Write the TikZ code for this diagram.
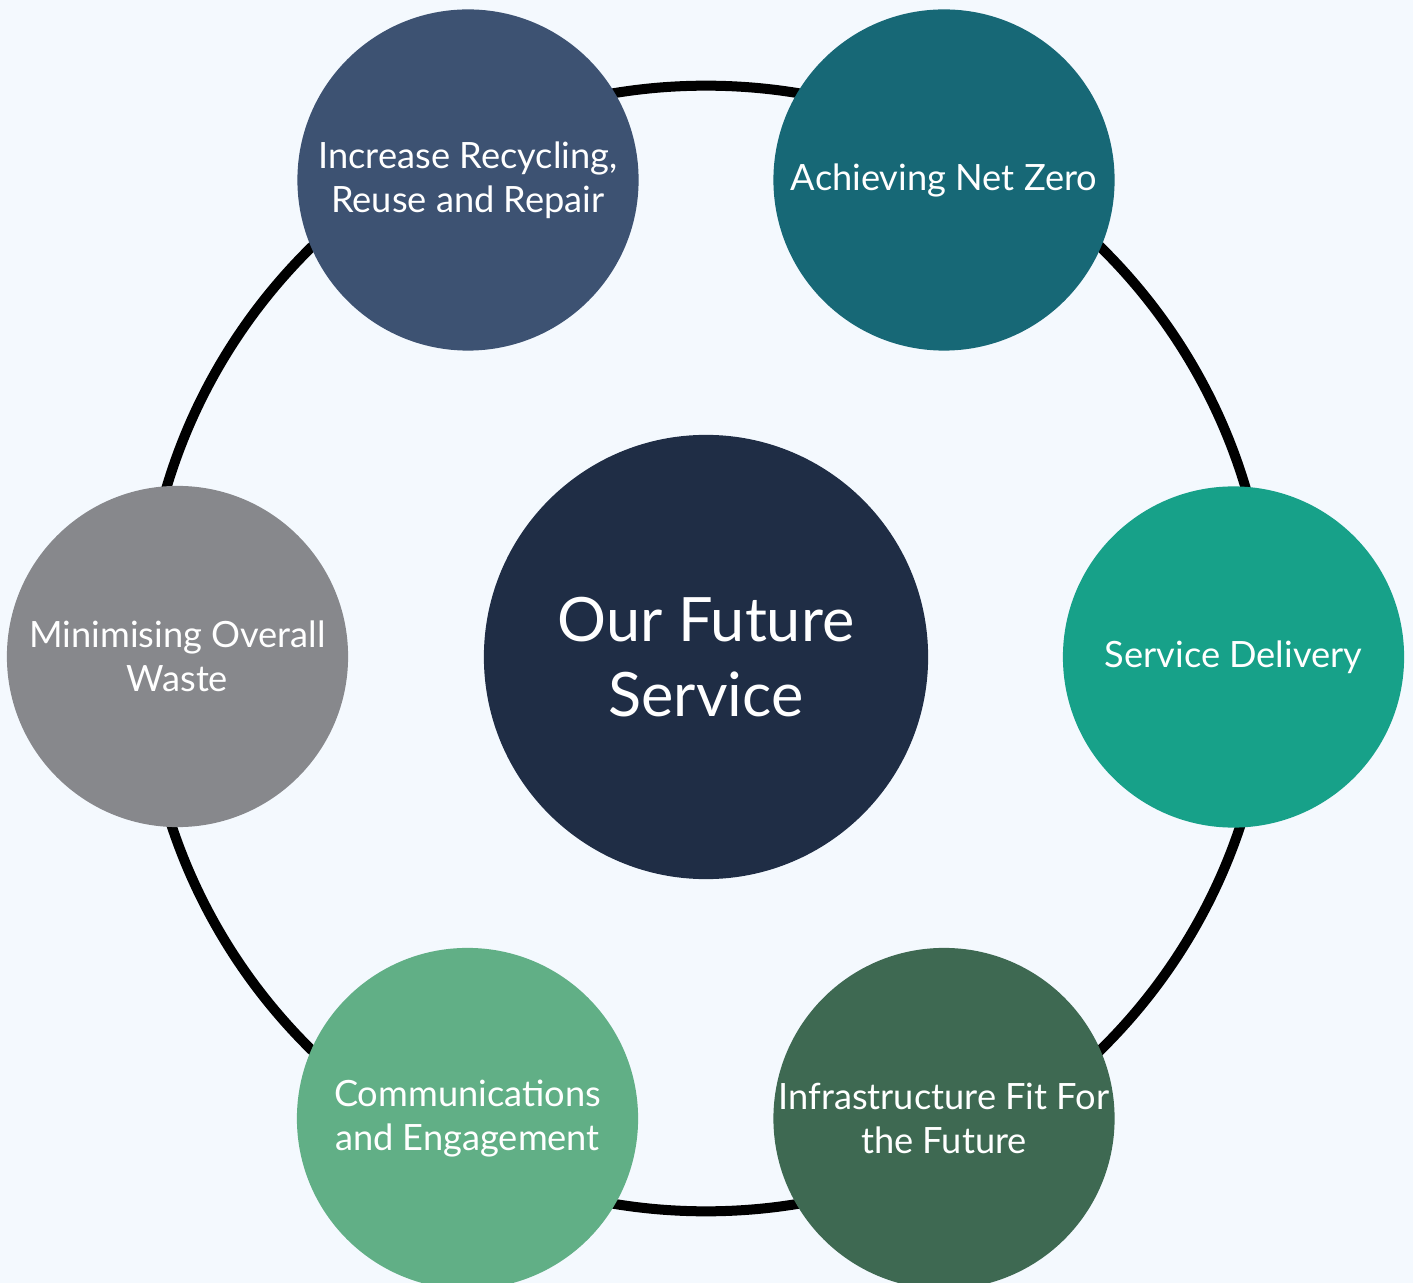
\documentclass[tikz,border=0pt]{standalone}
\usepackage{fontspec}
\setmainfont{Lato}
\definecolor{bgc}{HTML}{F4F9FE}
\definecolor{cTL}{HTML}{3D5272}
\definecolor{cTR}{HTML}{176876}
\definecolor{cR}{HTML}{17A189}
\definecolor{cBR}{HTML}{3E6952}
\definecolor{cBL}{HTML}{61AF86}
\definecolor{cL}{HTML}{87888C}
\definecolor{cC}{HTML}{1F2D45}
\tikzset{
  topic/.style={circle, minimum size=3.41cm, inner sep=0pt, text=white, align=center,
    font=\fontsize{10.3}{12.6}\selectfont},
  hub/.style={circle, minimum size=4.44cm, inner sep=0pt, text=white, align=center,
    font=\fontsize{17.4}{21.3}\selectfont},
  ring/.style={line width=0.1cm, black}
}
\begin{document}
\begin{tikzpicture}[x=0.01cm,y=-0.01cm]
\fill[bgc] (0,0) rectangle (1413,1283);
\useasboundingbox (0,0) rectangle (1413,1283);
\coordinate (ringc) at (706,648.5);
\draw[ring] (ringc) circle[radius=5.625cm];
\node[hub, fill=cC] (hub) at (706,657) {Our Future\\Service};
\node[topic, fill=cTL] (recycle) at (468,180) {Increase Recycling,\\Reuse and Repair};
\node[topic, fill=cTR] (netzero) at (944,180) {Achieving Net Zero};
\node[topic, fill=cR] (delivery) at (1233.5,657) {Service Delivery};
\node[topic, fill=cBR] (infra) at (944,1118.5) {Infrastructure Fit For\\the Future};
\node[topic, fill=cBL] (comms) at (467.5,1118.5) {Communications\\and Engagement};
\node[topic, fill=cL] (waste) at (177.5,656.5) {Minimising Overall\\Waste};
\end{tikzpicture}
\end{document}
